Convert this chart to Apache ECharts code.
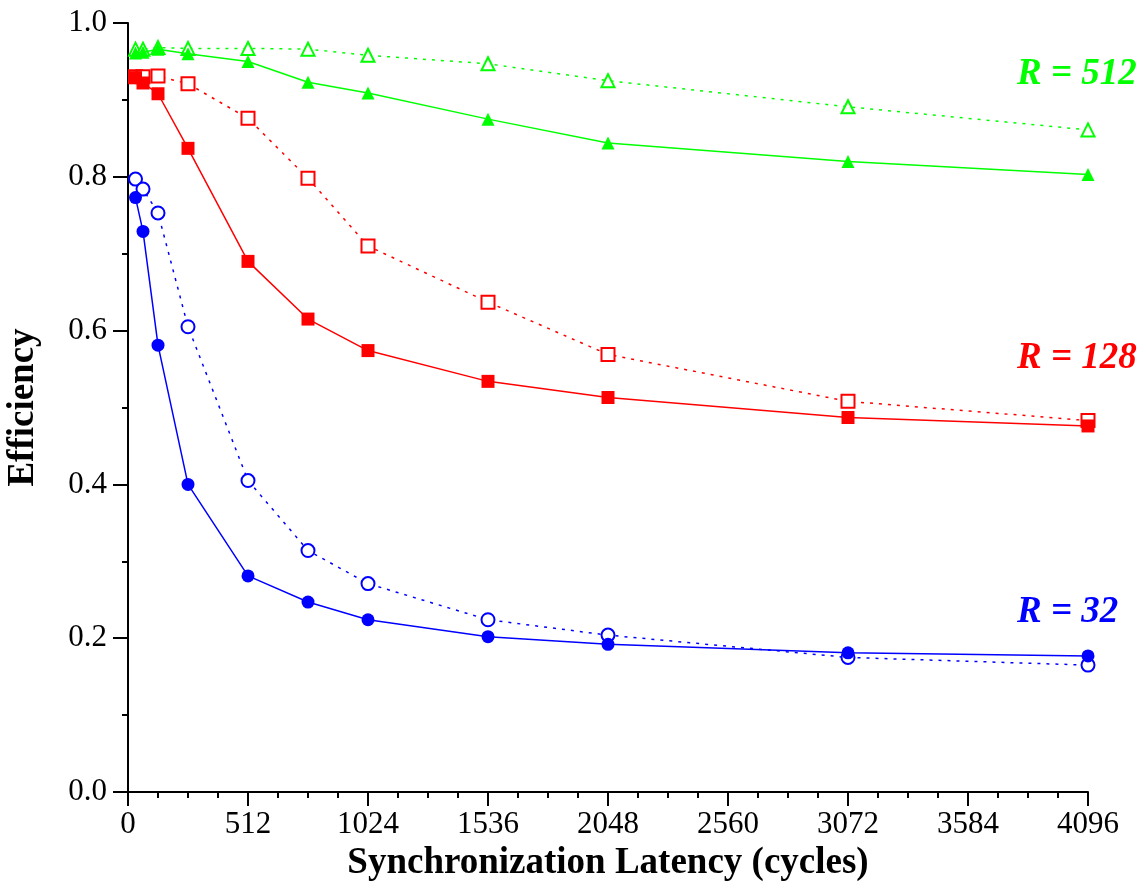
<!DOCTYPE html>
<html>
<head>
<meta charset="utf-8">
<script src="https://cdn.jsdelivr.net/npm/echarts@6/dist/echarts.min.js"></script>
<style>html,body{margin:0;padding:0;background:#fff}#c{width:1145px;height:884px}</style>
</head>
<body>
<div id="c"></div>
<script>
const latency = [32, 64, 128, 256, 512, 768, 1024, 1536, 2048, 3072, 4096];
const r32Solid  = [0.773, 0.729, 0.581, 0.400, 0.281, 0.247, 0.224, 0.202, 0.192, 0.181, 0.177];
const r32Dotted = [0.797, 0.784, 0.753, 0.605, 0.405, 0.314, 0.271, 0.224, 0.204, 0.175, 0.165];
const r128Solid  = [0.929, 0.922, 0.908, 0.837, 0.690, 0.615, 0.574, 0.534, 0.513, 0.487, 0.476];
const r128Dotted = [0.930, 0.930, 0.931, 0.921, 0.876, 0.798, 0.710, 0.637, 0.569, 0.508, 0.483];
const r512Solid  = [0.961, 0.962, 0.966, 0.960, 0.950, 0.923, 0.909, 0.875, 0.844, 0.820, 0.803];
const r512Dotted = [0.966, 0.966, 0.968, 0.967, 0.967, 0.966, 0.958, 0.947, 0.925, 0.891, 0.861];
const seriesLabels = ['R = 32', 'R = 128', 'R = 512'];

const FONT = 'Liberation Serif, Times New Roman, serif';
const pair = (ys) => latency.map((x, i) => [x, ys[i]]);

function mk(name, ys, color, symbol, filled, dotted) {
  return {
    name, type: 'line', data: pair(ys), symbol,
    symbolSize: 13,
    showSymbol: true,
    lineStyle: { color, width: 1.5, type: dotted ? [3, 6] : 'solid' },
    itemStyle: { color: filled ? color : '#fff', borderColor: color, borderWidth: filled ? 0 : 2 },
    emphasis: { disabled: true },
    animation: false,
    z: filled ? 3 : 2
  };
}

const chart = echarts.init(document.getElementById('c'), null, { renderer: 'canvas' });
chart.setOption({
  animation: false,
  grid: { left: 128, right: 57, top: 23, bottom: 92, containLabel: false, outerBoundsMode: 'none' },
  xAxis: {
    type: 'value', min: 0, max: 4096, interval: 512,
    name: 'Synchronization Latency (cycles)', nameLocation: 'middle', nameGap: 50,
    nameTextStyle: { fontFamily: FONT, fontWeight: 'bold', fontSize: 37, color: '#000' },
    axisLine: { show: true, lineStyle: { color: '#000', width: 2 } },
    axisTick: { show: true, length: 14, lineStyle: { color: '#000', width: 2 } },
    minorTick: { show: true, splitNumber: 4, length: 6, lineStyle: { color: '#000', width: 2 } },
    axisLabel: { fontFamily: FONT, fontSize: 31, color: '#000', margin: 17, formatter: v => String(v) },
    splitLine: { show: false }
  },
  yAxis: {
    type: 'value', min: 0, max: 1, interval: 0.2,
    name: 'Efficiency', nameLocation: 'middle', nameGap: 86, nameRotate: 90,
    nameTextStyle: { fontFamily: FONT, fontWeight: 'bold', fontSize: 37, color: '#000' },
    axisLine: { show: true, lineStyle: { color: '#000', width: 2 } },
    axisTick: { show: true, length: 15, lineStyle: { color: '#000', width: 2 } },
    minorTick: { show: true, splitNumber: 2, length: 6, lineStyle: { color: '#000', width: 2 } },
    axisLabel: { fontFamily: FONT, fontSize: 31, color: '#000', margin: 21, formatter: v => v.toFixed(1) },
    splitLine: { show: false }
  },
  series: [
    mk('r32s', r32Solid, '#0000ff', 'circle', true, false),
    mk('r32d', r32Dotted, '#0000ff', 'circle', false, true),
    mk('r128s', r128Solid, '#ff0000', 'rect', true, false),
    mk('r128d', r128Dotted, '#ff0000', 'rect', false, true),
    mk('r512s', r512Solid, '#00ff00', 'triangle', true, false),
    mk('r512d', r512Dotted, '#00ff00', 'triangle', false, true)
  ],
  graphic: [
    { type: 'text', left: 1017, top: 56, style: { text: seriesLabels[2], font: 'italic bold 37px ' + FONT, fill: '#00ff00' } },
    { type: 'text', left: 1017, top: 340, style: { text: seriesLabels[1], font: 'italic bold 37px ' + FONT, fill: '#ff0000' } },
    { type: 'text', left: 1017, top: 594, style: { text: seriesLabels[0], font: 'italic bold 37px ' + FONT, fill: '#0000ff' } }
  ]
});
</script>
</body>
</html>
